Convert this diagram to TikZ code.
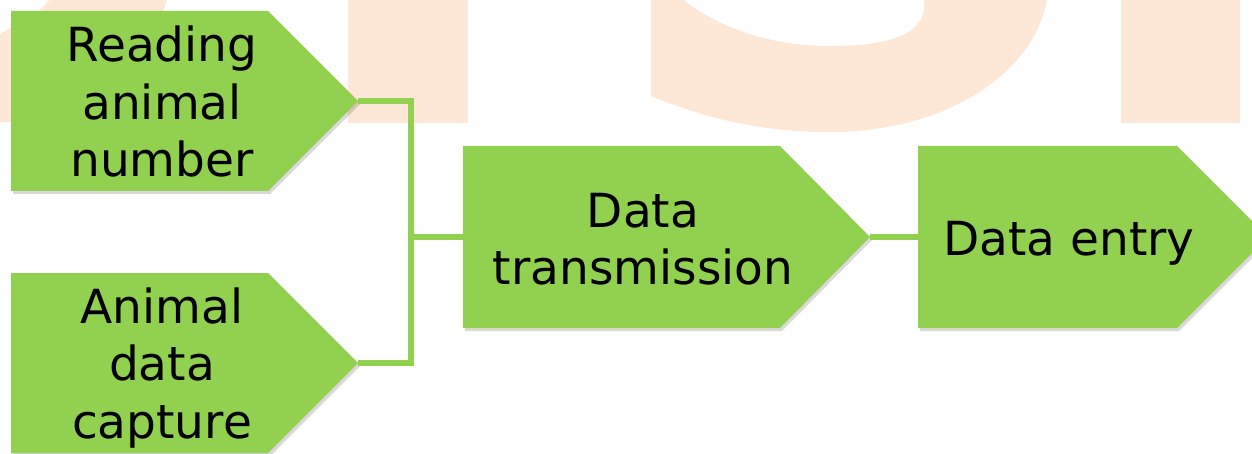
\documentclass[tikz,border=0pt]{standalone}
\usepackage{fontspec}
\setmainfont{DejaVu Sans}
\usetikzlibrary{shadows}
\definecolor{boxgreen}{HTML}{92D050}
\definecolor{peach}{HTML}{FDE7D7}
\begin{document}
\begin{tikzpicture}[x=1pt,y=-1pt,
  arrowbox/.style={fill=boxgreen, drop shadow={shadow xshift=2pt, shadow yshift=-3pt, opacity=0.15, fill=black}},
  lbl/.style={align=center, inner sep=0pt, font=\fontsize{47}{57.5}\selectfont},
  conn/.style={draw=boxgreen, line width=6.5pt, line join=miter}]
\useasboundingbox (0,0) rectangle (1252,454);
\clip (0,0) rectangle (1252,454);
% watermark
\fill[peach] (0,122) -- (0,34) -- (40,10) -- (50,0) -- (167,0) -- (160,20) -- (150,122) -- cycle;
\fill[peach] (348,0) rectangle (468,123);
\fill[peach] (1121,0) rectangle (1240,123);
\fill[peach] (651,0) -- (651,96) .. controls (705,118) and (760,132) .. (830,132)
  .. controls (950,132) and (1035,70) .. (1047,0) -- (924,0) -- (924,8)
  .. controls (922,38) and (880,46) .. (830,46)
  .. controls (770,46) and (720,28) .. (683,0) -- cycle;
% boxes
\fill[arrowbox] (11,11) -- (268,11) -- (358,101) -- (268,191) -- (11,191) -- cycle;
\fill[arrowbox] (11,273) -- (268,273) -- (358,363) -- (268,453) -- (11,453) -- cycle;
\fill[arrowbox] (463,146) -- (780,146) -- (870,237) -- (780,328) -- (463,328) -- cycle;
\fill[arrowbox] (918,146) -- (1177,146) -- (1268,237) -- (1177,328) -- (918,328) -- cycle;
\coordinate (t1) at (358,101);
\coordinate (t2) at (358,363);
\coordinate (jn) at (411,237);
\coordinate (l3) at (463,237);
\coordinate (t3) at (870,237);
\coordinate (l4) at (918,237);
% labels
\node[lbl] (r1) at (162,101.5) {Reading\\animal\\number};
\node[lbl] (r2) at (162,368) {Animal\\data\\capture};
\node[lbl] (r3) at (643,239) {Data\\transmission};
\node[lbl] (r4) at (1069,243) {Data entry};
% connectors
\draw[conn] (t1) -| (jn);
\draw[conn] (t2) -| (jn);
\draw[conn] (jn) -- (l3);
\draw[conn] (t3) -- (l4);
\end{tikzpicture}
\end{document}
